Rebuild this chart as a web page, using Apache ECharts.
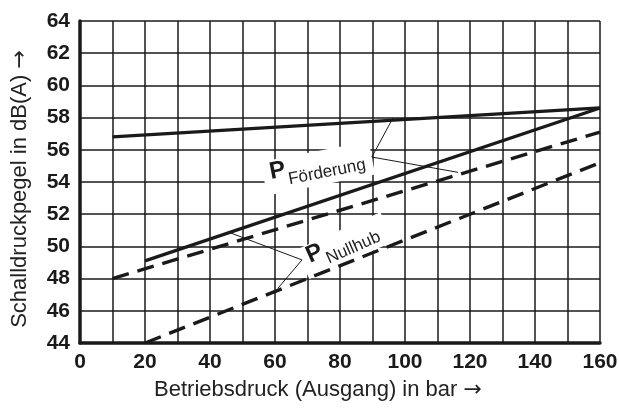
<!DOCTYPE html>
<html>
<head>
<meta charset="utf-8">
<script src="https://cdn.jsdelivr.net/npm/echarts@6/dist/echarts.min.js"></script>
<style>
  html, body { margin: 0; padding: 0; background: #fff; }
  #chart { width: 619px; height: 413px; }
</style>
</head>
<body>
<div id="chart"></div>
<script>
// Kennlinien (Endpunkte der Geraden)
const foerderungOben = [[10, 56.8], [160, 58.6]]
const foerderungUnten = [[20, 49.1], [160, 58.6]]
const nullhubOben = [[10, 48.0], [160, 57.1]]
const nullhubUnten = [[20, 44.0], [160, 55.2]]

// Hinweislinien der Beschriftungen
const leaderFoerderung = [[96.3, 57.98], [89.8, 55.55], [116.3, 54.6]]
const leaderNullhub = [[45.5, 50.9], [68.3, 49.16], [60.9, 47.4]]

// Lage der Beschriftungen (Mitte, in Datenkoordinaten)
const labelFoerderung = [73.2, 54.85]
const labelNullhub = [81.5, 50.05]

const xTicks = [0, 20, 40, 60, 80, 100, 120, 140, 160]

const fontTick = 'Liberation Sans'
const fontText = 'Liberation Sans'

let chart = echarts.init(document.getElementById('chart'))

const solid = { color: '#1a1a1a', width: 3.2, type: 'solid' }
const dashed = { color: '#1a1a1a', width: 3.4, type: [17, 9] }
const leader = { color: '#1a1a1a', width: 1, type: 'solid' }

// Pfeil in DejaVu, da Liberation ihn nur klein hat
const arrowRich = {
  a: { fontFamily: 'DejaVu Sans', fontSize: 22, color: '#222' },
}

function lineSeries(data, style) {
  return {
    type: 'line',
    data: data,
    symbol: 'none',
    lineStyle: style,
    silent: true,
    z: 3,
  }
}

chart.setOption({
  animation: false,
  grid: { left: 80, right: 19, top: 21, bottom: 70, outerBoundsMode: 'none' },
  xAxis: {
    type: 'value',
    min: 0,
    max: 160,
    interval: 10,
    name: 'Betriebsdruck (Ausgang) in bar {a|→}',
    nameLocation: 'middle',
    nameGap: 36,
    nameTextStyle: {
      fontFamily: fontText,
      fontSize: 22,
      color: '#222',
      rich: arrowRich,
      padding: [0, 44, 0, 0],
    },
    axisLine: { show: true, lineStyle: { color: '#1a1a1a', width: 3.5 } },
    axisTick: { show: false },
    splitLine: { show: true, lineStyle: { color: '#1a1a1a', width: 1.5 } },
    axisLabel: {
      margin: 9,
      fontFamily: fontTick,
      fontWeight: 'bold',
      fontSize: 21,
      color: '#1a1a1a',
      formatter: (v) => (xTicks.indexOf(v) >= 0 ? String(v) : ''),
    },
  },
  yAxis: {
    type: 'value',
    min: 44,
    max: 64,
    interval: 2,
    name: 'Schalldruckpegel in dB(A) {a|→}',
    nameLocation: 'middle',
    nameGap: 49,
    nameTextStyle: {
      fontFamily: fontText,
      fontSize: 22,
      color: '#222',
      rich: arrowRich,
      padding: [0, 14, 0, 0],
    },
    axisLine: { show: true, lineStyle: { color: '#1a1a1a', width: 3.5 } },
    axisTick: { show: false },
    splitLine: { show: true, lineStyle: { color: '#1a1a1a', width: 1.5 } },
    axisLabel: {
      margin: 10,
      fontFamily: fontTick,
      fontWeight: 'bold',
      fontSize: 21,
      color: '#1a1a1a',
    },
  },
  series: [
    lineSeries(foerderungOben, solid),
    lineSeries(foerderungUnten, solid),
    lineSeries(nullhubOben, dashed),
    lineSeries(nullhubUnten, dashed),
    lineSeries(leaderFoerderung, leader),
    lineSeries(leaderNullhub, leader),
  ],
})

function makeLabel(pos, sub, deg, w, h) {
  const p = chart.convertToPixel({ gridIndex: 0 }, pos)
  return {
    type: 'group',
    x: p[0],
    y: p[1],
    rotation: (deg * Math.PI) / 180,
    z: 1,
    children: [
      {
        type: 'rect',
        shape: { x: -w / 2, y: -h / 2, width: w, height: h },
        style: { fill: '#fff' },
        z: 1,
      },
      {
        type: 'text',
        x: -w / 2 + 7,
        y: 7,
        style: {
          text: 'P',
          font: 'bold 24px "Liberation Sans"',
          fill: '#1a1a1a',
          textVerticalAlign: 'bottom',
        },
        z: 2,
      },
      {
        type: 'text',
        x: -w / 2 + 24,
        y: 14,
        style: {
          text: sub,
          font: '17px "Liberation Sans"',
          fill: '#222',
          textVerticalAlign: 'bottom',
        },
        z: 2,
      },
    ],
  }
}

chart.setOption({
  graphic: [
    makeLabel(labelFoerderung, 'Förderung', 11, 110, 34),
    makeLabel(labelNullhub, 'Nullhub', 24, 92, 32),
  ],
})
</script>
</body>
</html>
